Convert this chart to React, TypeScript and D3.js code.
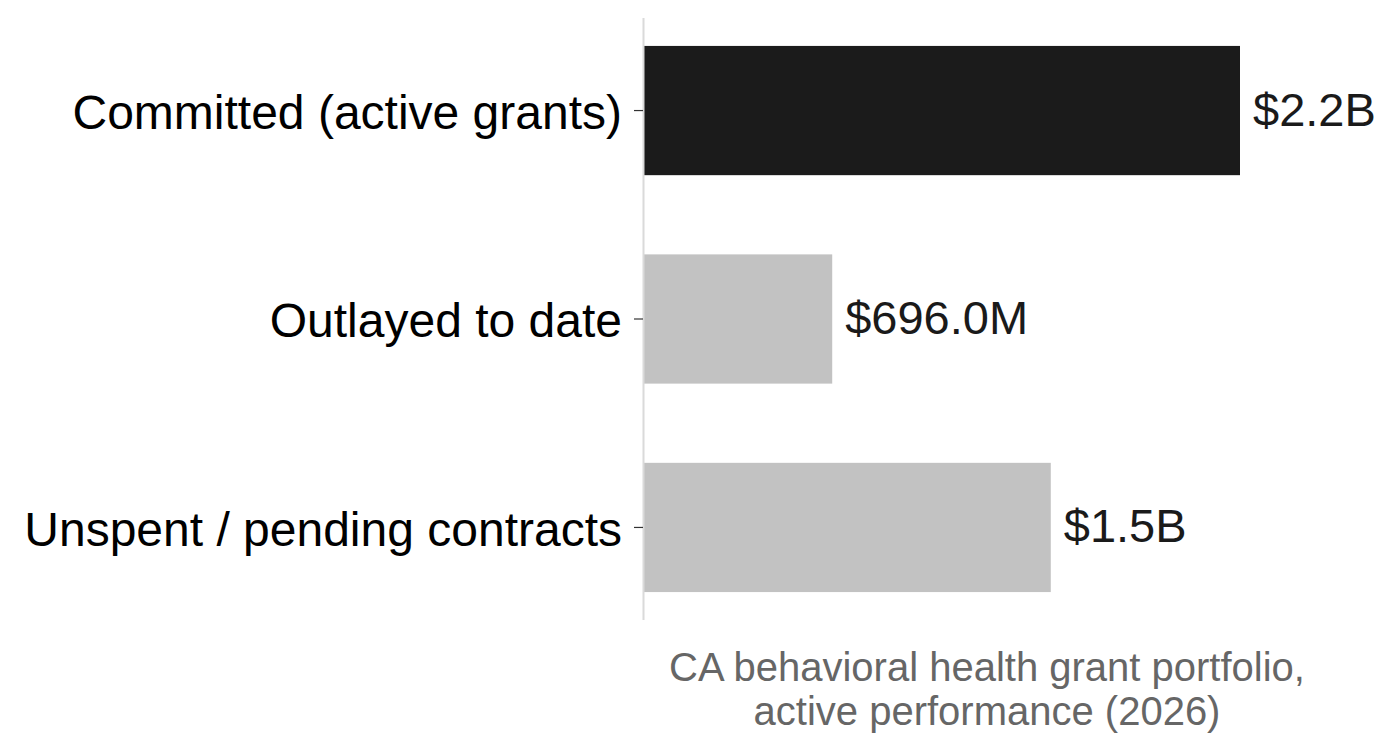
import { useEffect, useRef } from "react";
import * as d3 from "d3";

// chart values
const categories = ["Committed (active grants)", "Outlayed to date", "Unspent / pending contracts"];
const amounts = [2.196, 0.696, 1.5]; // billions of dollars
const valueLabels = ["$2.2B", "$696.0M", "$1.5B"];
const barColors = ["#1b1b1b", "#c2c2c2", "#c2c2c2"];
const captionLines = ["CA behavioral health grant portfolio,", "active performance (2026)"];

const FONT = "'Liberation Sans', Arial, Helvetica, sans-serif";

export default function App() {
    const ref = useRef<SVGSVGElement | null>(null);

    useEffect(() => {
        const width = 1396;
        const height = 751;

        const svg = d3.select(ref.current);
        svg.selectAll("*").remove();

        const rows = categories.map((c, i) => ({
            cat: c,
            value: amounts[i],
            label: valueLabels[i],
            color: barColors[i],
        }));

        const x = d3.scaleLinear()
            .domain([0, d3.max(amounts) as number])
            .range([643, 1240]);

        const y = d3.scaleBand<string>()
            .domain(categories)
            .range([18, 620])
            .paddingInner(0.38)
            .paddingOuter(0.134);

        // bars
        svg.append("g")
            .selectAll("rect")
            .data(rows)
            .enter()
            .append("rect")
                .attr("x", x(0) + 1)
                .attr("y", (d) => y(d.cat) as number)
                .attr("width", (d) => x(d.value) - x(0) - 1)
                .attr("height", y.bandwidth())
                .attr("fill", (d) => d.color);

        // y axis
        const yAxis = svg.append("g")
            .attr("transform", `translate(${x(0)},0)`)
            .call(d3.axisLeft(y).tickSize(9).tickPadding(12));
        yAxis.select(".domain")
            .attr("d", `M0.5,18V620`)
            .attr("stroke", "#dadada")
            .attr("stroke-width", 2);
        yAxis.selectAll(".tick line")
            .attr("stroke", "#333")
            .attr("stroke-width", 1.2);
        yAxis.selectAll(".tick text")
            .attr("fill", "#000")
            .attr("dy", "0.38em")
            .style("font-family", FONT)
            .style("font-size", "48px");

        // value labels
        svg.append("g")
            .selectAll("text")
            .data(rows)
            .enter()
            .append("text")
                .attr("x", (d) => x(d.value) + 13)
                .attr("y", (d) => (y(d.cat) as number) + y.bandwidth() / 2)
                .attr("dy", "0.32em")
                .attr("fill", "#1a1a1a")
                .style("font-family", FONT)
                .style("font-size", "47px")
                .text((d) => d.label);

        // caption
        svg.append("g")
            .selectAll("text")
            .data(captionLines)
            .enter()
            .append("text")
                .attr("x", 987)
                .attr("y", (d, i) => 681 + i * 44)
                .attr("text-anchor", "middle")
                .attr("fill", "#666666")
                .style("font-family", FONT)
                .style("font-size", "40px")
                .text((d) => d);

        svg.attr("width", width).attr("height", height);
    }, []);

    return (
        <svg
            ref={ref}
            width={1396}
            height={751}
            style={{ position: "absolute", left: 0, top: 0, background: "#fff" }}
        />
    );
}
